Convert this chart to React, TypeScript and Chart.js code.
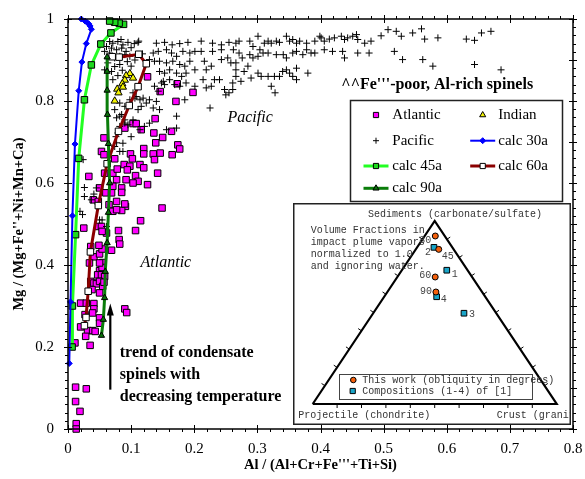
import React, { useEffect, useRef } from 'react';
import { Chart, registerables } from 'chart.js';
Chart.register(...registerables);

type P = [number, number];
type T = [number, number, number]; // [sediments, projectile, crust]

const atlantic: P[] = [
  [0.126,0.859],[0.146,0.823],[0.171,0.799],[0.198,0.821],[0.173,0.842],[0.138,0.757],[0.103,0.745],[0.108,0.745],[0.090,0.734],[0.116,0.730],
  [0.136,0.722],[0.164,0.726],[0.057,0.710],[0.150,0.711],[0.120,0.684],[0.139,0.698],[0.174,0.693],[0.177,0.683],[0.053,0.677],[0.057,0.669],
  [0.074,0.659],[0.099,0.671],[0.135,0.671],[0.146,0.673],[0.137,0.657],[0.165,0.669],[0.120,0.671],[0.102,0.659],[0.089,0.645],[0.098,0.641],
  [0.114,0.645],[0.120,0.637],[0.142,0.624],[0.033,0.616],[0.058,0.624],[0.071,0.624],[0.078,0.634],[0.094,0.632],[0.107,0.618],[0.077,0.608],
  [0.092,0.608],[0.111,0.604],[0.126,0.596],[0.050,0.588],[0.071,0.592],[0.085,0.588],[0.103,0.600],[0.060,0.576],[0.040,0.559],[0.048,0.555],
  [0.077,0.555],[0.091,0.543],[0.065,0.547],[0.071,0.531],[0.085,0.533],[0.149,0.539],[0.115,0.508],[0.107,0.484],[0.080,0.484],[0.025,0.490],
  [0.048,0.494],[0.061,0.478],[0.069,0.576],[0.085,0.577],[0.090,0.549],[0.077,0.535],[0.053,0.494],[0.054,0.482],
  [0.081,0.462],[0.082,0.451],[0.036,0.445],[0.041,0.420],[0.050,0.427],[0.054,0.439],[0.055,0.406],[0.050,0.386],[0.054,0.394],[0.047,0.376],
  [0.053,0.376],[0.058,0.372],[0.036,0.360],[0.041,0.356],[0.045,0.354],[0.050,0.360],[0.055,0.348],
  [0.049,0.448],[0.034,0.405],[0.050,0.405],[0.057,0.358],[0.038,0.340],[0.050,0.332],[0.020,0.307],[0.041,0.306],[0.029,0.307],[0.041,0.293],
  [0.050,0.271],[0.027,0.279],[0.039,0.283],[0.020,0.249],[0.031,0.240],[0.039,0.240],[0.043,0.238],[0.050,0.258],[0.028,0.226],[0.035,0.204],
  [0.011,0.210],[0.090,0.293],[0.093,0.284],[0.069,0.436],
  [0.012,0.102],[0.029,0.098],[0.012,0.067],[0.019,0.043],[0.013,0.013],[0.013,0.0]
];

const pacific: P[] = [
  [0.211,0.946],[0.229,0.941],[0.243,0.937],[0.255,0.943],[0.266,0.941],[0.271,0.946],
  [0.211,0.921],[0.229,0.921],[0.243,0.925],[0.262,0.925],[0.271,0.917],[0.288,0.946],[0.293,0.933],[0.301,0.958],[0.304,0.925],[0.311,0.941],
  [0.317,0.946],[0.322,0.941],[0.330,0.946],[0.335,0.943],[0.346,0.958],[0.351,0.946],[0.356,0.950],[0.362,0.941],[0.367,0.946],[0.378,0.941],
  [0.391,0.946],[0.399,0.958],[0.401,0.954],[0.406,0.946],[0.414,0.951],[0.422,0.954],[0.433,0.958],[0.438,0.950],[0.443,0.954],[0.451,0.958],
  [0.457,0.962],[0.459,0.950],[0.470,0.941],[0.480,0.946],[0.496,0.959],[0.507,0.974],[0.520,0.970],[0.528,0.958],[0.546,0.966],[0.560,0.976],
  [0.565,0.951],[0.586,0.954],[0.631,0.951],[0.644,0.948],[0.655,0.966],[0.670,0.970],[0.517,0.921],[0.530,0.901],[0.562,0.901],[0.578,0.885],
  [0.644,0.889],[0.686,0.876],
  [0.216,0.897],[0.219,0.876],[0.227,0.885],[0.243,0.901],[0.253,0.905],[0.258,0.893],[0.266,0.893],[0.276,0.905],[0.288,0.913],[0.293,0.905],
  [0.301,0.909],[0.309,0.917],[0.317,0.917],[0.330,0.913],[0.341,0.913],[0.346,0.905],[0.356,0.917],[0.362,0.921],[0.372,0.913],[0.378,0.925],
  [0.385,0.917],[0.391,0.917],[0.406,0.925],[0.419,0.921],[0.435,0.921],[0.438,0.905],[0.459,0.917],[0.477,0.917],
  [0.214,0.852],[0.219,0.832],[0.227,0.836],[0.232,0.852],[0.240,0.852],[0.248,0.828],[0.250,0.815],[0.255,0.820],[0.261,0.828],[0.261,0.844],
  [0.266,0.860],[0.266,0.876],[0.274,0.848],[0.279,0.872],[0.285,0.885],[0.290,0.856],[0.301,0.868],[0.306,0.860],[0.317,0.860],[0.322,0.836],
  [0.327,0.860],[0.328,0.820],[0.335,0.860],[0.340,0.872],[0.346,0.876],[0.351,0.868],[0.356,0.860],[0.362,0.852],[0.362,0.880],[0.380,0.868],
  [0.225,0.783],
  [0.112,0.946],[0.140,0.941],[0.153,0.943],[0.165,0.937],[0.177,0.940],[0.190,0.943],
  [0.135,0.917],[0.143,0.921],[0.156,0.925],[0.164,0.917],[0.172,0.909],[0.182,0.921],[0.193,0.917],[0.201,0.921],
  [0.129,0.901],[0.137,0.897],[0.145,0.897],[0.156,0.893],[0.166,0.897],[0.177,0.889],[0.185,0.885],[0.193,0.897],[0.145,0.872],[0.153,0.868],
  [0.161,0.876],[0.172,0.868],[0.180,0.860],[0.187,0.868],[0.201,0.876],
  [0.148,0.844],[0.151,0.848],[0.153,0.840],[0.161,0.852],[0.169,0.840],[0.177,0.836],[0.187,0.844],[0.201,0.836],[0.137,0.836],[0.143,0.824],
  [0.108,0.811],[0.114,0.803],[0.119,0.807],[0.124,0.795],[0.129,0.803],[0.116,0.787],[0.135,0.783],[0.140,0.799],[0.145,0.779],[0.185,0.803],
  [0.172,0.763],[0.111,0.779],[0.098,0.803],
  [0.082,0.763],[0.090,0.754],[0.095,0.742],[0.103,0.754],[0.114,0.730],[0.121,0.738],[0.129,0.746],[0.156,0.730],[0.172,0.734],[0.100,0.713],
  [0.082,0.738],[0.076,0.713],[0.087,0.697],[0.074,0.689],[0.082,0.677],
  [0.061,0.933],[0.071,0.941],[0.079,0.945],[0.087,0.937],[0.095,0.943],[0.058,0.921],[0.066,0.917],[0.077,0.925],[0.085,0.929],[0.092,0.921],
  [0.074,0.905],[0.082,0.909],[0.090,0.913],[0.098,0.909],[0.063,0.893],[0.074,0.884],[0.082,0.889],[0.058,0.876],[0.069,0.872],[0.071,0.852],
  [0.079,0.862],[0.103,0.820],[0.106,0.807],[0.082,0.795],[0.090,0.787],[0.074,0.779],[0.085,0.767],[0.077,0.759],[0.090,0.746],[0.079,0.722],
  [0.077,0.698],[0.087,0.677],[0.024,0.657],[0.045,0.588],[0.037,0.559],[0.019,0.531],[0.050,0.510],[0.061,0.494],
  [0.066,0.945],[0.069,0.929],[0.084,0.950],[0.100,0.930],[0.105,0.940],[0.063,0.905],[0.094,0.896],[0.100,0.885],[0.086,0.875],[0.106,0.900],
  [0.111,0.943],[0.118,0.915],
  [0.026,0.589],[0.026,0.567],[0.041,0.573],[0.023,0.523],[0.054,0.510]
];

const indian: P[] = [
  [0.098,0.867],[0.103,0.856],[0.092,0.862],[0.090,0.851],[0.086,0.842],[0.087,0.834],[0.078,0.829],[0.080,0.820],[0.074,0.800]
];

const calc30a: P[] = [
  [0.002,0.16],[0.004,0.31],[0.007,0.52],[0.011,0.695],[0.017,0.825],[0.022,0.895],[0.029,0.94],[0.037,0.975],
  [0.035,0.983],[0.033,0.988],[0.030,0.992],[0.027,0.995],[0.021,1.0]
];
const calc45a: P[] = [
  [0.0065,0.20],[0.007,0.30],[0.012,0.474],[0.017,0.66],[0.026,0.803],[0.037,0.888],[0.052,0.939],[0.068,0.966],
  [0.088,0.987],[0.081,0.99],[0.074,0.992],[0.066,0.995]
];
const calc60a: P[] = [
  [0.026,0.252],[0.0285,0.272],[0.032,0.336],[0.0355,0.432],[0.048,0.545],[0.062,0.647],[0.080,0.726],[0.097,0.789],
  [0.111,0.835],[0.124,0.891],[0.112,0.914],[0.081,0.907],[0.070,0.908]
];
const calc90a: P[] = [
  [0.053,0.228],[0.056,0.267],[0.058,0.32],[0.059,0.384],[0.062,0.454],[0.064,0.528],[0.066,0.60],[0.064,0.696],
  [0.0625,0.767],[0.062,0.826],[0.062,0.872],[0.062,0.907]
];

// ternary inset (fractions: sediments, projectile, crust)
const thisWorkLabels = ['30', '45', '60', '90'];
const thisWork: T[] = [[0.918,0.0385,0.0435],[0.845,0.061,0.094],[0.694,0.151,0.155],[0.612,0.189,0.199]];
const compLabels = ['1', '2', '3', '4'];
const comps: T[] = [[0.731,0.085,0.184],[0.856,0.075,0.069],[0.496,0.132,0.372],[0.586,0.199,0.215]];
const triangleCorners: T[] = [[0,1,0],[0,0,1],[1,0,0],[0,1,0]];

const serif = "'Liberation Serif', 'Times New Roman', Times, serif";
const mono = "'Liberation Mono', 'Courier New', monospace";

const toXY = (a: P[]) => a.map(([x, y]) => ({ x, y }));
const ternXY = (a: T[]) => a.map(([s, p, c]) => { const t = s + p + c; return { x: (c + s / 2) / t, y: s / t }; });
const fmt = (v: any) => String(Math.round(Number(v) * 10) / 10);

function drawMarker(ctx: CanvasRenderingContext2D, style: string, x: number, y: number, r: number, fill: string, stroke: string, lw = 1) {
  ctx.save();
  ctx.fillStyle = fill; ctx.strokeStyle = stroke; ctx.lineWidth = lw;
  ctx.beginPath();
  if (style === 'rect') {
    ctx.rect(x - r, y - r, 2 * r, 2 * r);
  } else if (style === 'rectRot') {
    ctx.moveTo(x, y - r); ctx.lineTo(x + r, y); ctx.lineTo(x, y + r); ctx.lineTo(x - r, y); ctx.closePath();
  } else if (style === 'triangle') {
    ctx.moveTo(x, y - r); ctx.lineTo(x + r * 0.87, y + r * 0.5); ctx.lineTo(x - r * 0.87, y + r * 0.5); ctx.closePath();
  } else if (style === 'circle') {
    ctx.arc(x, y, r, 0, Math.PI * 2);
  }
  if (style === 'cross') {
    ctx.moveTo(x - r, y); ctx.lineTo(x + r, y); ctx.moveTo(x, y - r); ctx.lineTo(x, y + r);
    ctx.stroke();
  } else {
    ctx.fill(); ctx.stroke();
  }
  ctx.restore();
}

const framePlugin = {
  id: 'frame',
  afterDatasetsDraw(chart: any) {
    const { ctx, chartArea: a, scales } = chart;
    const xs = scales.x, ys = scales.y;
    ctx.save();
    ctx.strokeStyle = '#000';
    ctx.lineWidth = 1;
    ctx.beginPath();
    for (let i = 0; i <= 40; i++) {
      const px = Math.round(xs.getPixelForValue(i * 0.02)) + 0.5;
      if (i % 5 === 0) {
        ctx.moveTo(px, a.bottom - 4); ctx.lineTo(px, a.bottom + 4);
        ctx.moveTo(px, a.top - 4); ctx.lineTo(px, a.top + 4);
      } else {
        ctx.moveTo(px, a.bottom); ctx.lineTo(px, a.bottom + 3);
        ctx.moveTo(px, a.top); ctx.lineTo(px, a.top - 3);
      }
    }
    for (let i = 0; i <= 50; i++) {
      const py = Math.round(ys.getPixelForValue(i * 0.02)) + 0.5;
      if (i % 10 === 0) { ctx.moveTo(a.left - 4, py); ctx.lineTo(a.left + 4, py); }
      else { ctx.moveTo(a.left, py); ctx.lineTo(a.left - 3, py); }
      if (i % 5 === 0) { ctx.moveTo(a.right - 4, py); ctx.lineTo(a.right + 4, py); }
      else { ctx.moveTo(a.right, py); ctx.lineTo(a.right + 3, py); }
    }
    ctx.stroke();
    ctx.lineWidth = 1.5;
    ctx.strokeRect(a.left, a.top, a.right - a.left, a.bottom - a.top);
    ctx.restore();
  }
};

const notesPlugin = {
  id: 'notes',
  afterDatasetsDraw(chart: any) {
    const { ctx, scales } = chart;
    const X = (v: number) => scales.x.getPixelForValue(v);
    const Y = (v: number) => scales.y.getPixelForValue(v);
    ctx.save();
    ctx.fillStyle = '#000';
    ctx.textBaseline = 'middle';
    // title
    ctx.font = `bold 16px ${serif}`;
    ctx.textAlign = 'left';
    ctx.fillText("^^Fe'''-poor, Al-rich spinels", X(0.433), Y(0.840));
    // region labels
    ctx.font = `italic 16px ${serif}`;
    ctx.textAlign = 'center';
    ctx.fillText('Pacific', X(0.2885), Y(0.7585));
    ctx.fillText('Atlantic', X(0.155), Y(0.405));
    // trend text
    ctx.font = `bold 16px ${serif}`;
    ctx.textAlign = 'left';
    ctx.fillText('trend of condensate', X(0.082), Y(0.185));
    ctx.fillText('spinels with', X(0.082), Y(0.132));
    ctx.fillText('decreasing temperature', X(0.082), Y(0.079));
    // arrow
    const ax = X(0.067);
    ctx.strokeStyle = '#000';
    ctx.lineWidth = 2.2;
    ctx.beginPath();
    ctx.moveTo(ax, Y(0.096)); ctx.lineTo(ax, Y(0.285));
    ctx.stroke();
    ctx.beginPath();
    ctx.moveTo(ax, Y(0.306)); ctx.lineTo(ax - 3.5, Y(0.306) + 12); ctx.lineTo(ax + 3.5, Y(0.306) + 12); ctx.closePath();
    ctx.fill();

    // legend box
    const bx = 350.5, by = 100.5, bw = 212, bh = 101;
    ctx.fillStyle = '#fff';
    ctx.fillRect(bx, by, bw, bh);
    ctx.strokeStyle = '#222';
    ctx.lineWidth = 1.5;
    ctx.strokeRect(bx, by, bw, bh);
    const rows = [115, 140.7, 166, 188.3];
    const mx = [376, 482.7];
    const tx = [392.3, 498.3];
    const items = chart.data.datasets.filter((d: any) => d.legendPos);
    items.forEach((d: any) => {
      const [col, row] = d.legendPos;
      const y = rows[row];
      if (d.showLine) {
        ctx.strokeStyle = d.borderColor;
        ctx.lineWidth = d.borderWidth;
        ctx.beginPath();
        ctx.moveTo(mx[col] - 12.5, y); ctx.lineTo(mx[col] + 12.5, y);
        ctx.stroke();
      }
      const st = d.pointStyle;
      const r = st === 'cross' ? 3 : st === 'triangle' ? 3.5 : st === 'rectRot' ? 3 : 2.6;
      drawMarker(ctx, st, mx[col], y, r, d.pointBackgroundColor, d.pointBorderColor, 1);
      ctx.fillStyle = '#000';
      ctx.font = `15px ${serif}`;
      ctx.textAlign = 'left';
      ctx.fillText(d.label, tx[col], y);
    });
    ctx.restore();
  }
};

const insetPlugin = {
  id: 'inset',
  beforeDraw(chart: any) {
    const { ctx, width, height } = chart;
    ctx.save();
    ctx.fillStyle = '#fff';
    ctx.fillRect(0, 0, width, height);
    ctx.restore();
  },
  afterDatasetsDraw(chart: any) {
    const { ctx, width, height, scales } = chart;
    const X = (v: number) => scales.x.getPixelForValue(v);
    const Y = (v: number) => scales.y.getPixelForValue(v);
    ctx.save();
    // triangle ticks
    ctx.strokeStyle = '#000';
    ctx.lineWidth = 1;
    ctx.beginPath();
    const L = { x: X(0), y: Y(0) }, R = { x: X(1), y: Y(0) }, A = { x: X(0.5), y: Y(1) };
    const nl = (() => { const dx = A.x - L.x, dy = A.y - L.y, n = Math.hypot(dx, dy); return { x: dy / n, y: -dx / n }; })();
    const nr = (() => { const dx = A.x - R.x, dy = A.y - R.y, n = Math.hypot(dx, dy); return { x: -dy / n, y: dx / n }; })();
    for (let i = 1; i <= 9; i++) {
      const t = i / 10;
      const bxp = X(t), byp = Y(0);
      ctx.moveTo(bxp, byp); ctx.lineTo(bxp, byp + 4);
      const lx = X(t / 2), ly = Y(t);
      ctx.moveTo(lx, ly); ctx.lineTo(lx + nl.x * 4, ly + nl.y * 4);
      const rx = X(1 - t / 2), ry = Y(t);
      ctx.moveTo(rx, ry); ctx.lineTo(rx + nr.x * 4, ry + nr.y * 4);
    }
    ctx.stroke();

    // texts
    ctx.beginPath();
    ctx.rect(1.5, 1.5, width - 3, height - 3);
    ctx.clip();
    ctx.fillStyle = '#333';
    ctx.font = `10px ${mono}`;
    ctx.textBaseline = 'middle';
    ctx.textAlign = 'left';
    ctx.fillText('Sediments (carbonate/sulfate)', 75, 11);
    ['Volume Fractions in', 'impact plume vapors', 'normalized to 1.0', 'and ignoring water.'].forEach((s, i) => {
      ctx.fillText(s, 17.7, 27 + i * 12.1);
    });
    ctx.fillText('Projectile (chondrite)', 5.3, 212);
    ctx.fillText('Crust (granite)', 203.7, 212);

    // point labels
    const lab = (meta: any, labels: string[], offs: [number, number, string][]) => {
      meta.data.forEach((el: any, i: number) => {
        const [dx, dy, al] = offs[i];
        ctx.textAlign = al;
        ctx.fillText(labels[i], el.x + dx, el.y + dy);
      });
    };
    ctx.fillStyle = '#444';
    lab(chart.getDatasetMeta(1), thisWorkLabels, [[-4, 4, 'right'], [3, 7, 'left'], [-4, -2, 'right'], [-4, -1, 'right']]);
    lab(chart.getDatasetMeta(2), compLabels, [[5, 4, 'left'], [-3, 5, 'right'], [5, 1, 'left'], [4, 3, 'left']]);

    // inset legend
    ctx.strokeStyle = '#444';
    ctx.lineWidth = 1;
    ctx.strokeRect(46.5, 171.5, 193, 25);
    const d1 = chart.data.datasets[1], d2 = chart.data.datasets[2];
    drawMarker(ctx, 'circle', 60.3, 177, 2.8, d1.pointBackgroundColor, '#000', 1);
    drawMarker(ctx, 'rect', 59.7, 188, 2.6, d2.pointBackgroundColor, '#000', 1);
    ctx.fillStyle = '#333';
    ctx.textAlign = 'left';
    ctx.fillText(d1.label, 69.3, 177.7);
    ctx.fillText(d2.label, 69.3, 188.7);
    ctx.restore();

    // box border
    ctx.save();
    ctx.strokeStyle = '#222';
    ctx.lineWidth = 1.5;
    ctx.strokeRect(0.75, 0.75, width - 1.5, height - 1.5);
    ctx.restore();
  }
};

export default function App() {
  const mainRef = useRef<HTMLCanvasElement>(null);
  const insetRef = useRef<HTMLCanvasElement>(null);

  useEffect(() => {
    Chart.defaults.font.family = serif;
    Chart.defaults.color = '#000';
    const common = { clip: false as any };
    const main = new Chart(mainRef.current!, {
      type: 'scatter',
      data: {
        datasets: [
          { label: 'calc 30a', legendPos: [1, 1], data: toXY(calc30a), showLine: true, borderColor: '#0000ff', borderWidth: 2,
            pointStyle: 'rectRot', pointRadius: 3, pointBackgroundColor: '#0000ff', pointBorderColor: '#0000ff', pointBorderWidth: 1, ...common },
          { label: 'calc 90a', legendPos: [0, 3], data: toXY(calc90a), showLine: true, borderColor: '#0a7d0a', borderWidth: 3,
            pointStyle: 'triangle', pointRadius: 3.6, pointBackgroundColor: '#087008', pointBorderColor: '#000', pointBorderWidth: 1, ...common },
          { label: 'calc 60a', legendPos: [1, 2], data: toXY(calc60a), showLine: true, borderColor: '#8b0000', borderWidth: 3,
            pointStyle: 'rect', pointRadius: 4.6, pointBackgroundColor: '#ffffff', pointBorderColor: '#000', pointBorderWidth: 1, ...common },
          { label: 'calc 45a', legendPos: [0, 2], data: toXY(calc45a), showLine: true, borderColor: '#22ff22', borderWidth: 3,
            pointStyle: 'rect', pointRadius: 4.6, pointBackgroundColor: '#1ed81e', pointBorderColor: '#000', pointBorderWidth: 1, ...common },
          { label: 'Indian', legendPos: [1, 0], data: toXY(indian), showLine: false,
            pointStyle: 'triangle', pointRadius: 4.2, pointBackgroundColor: '#f2f200', pointBorderColor: '#000', pointBorderWidth: 1, ...common },
          { label: 'Pacific', legendPos: [0, 1], data: toXY(pacific), showLine: false,
            pointStyle: 'cross', pointRadius: 3.5, pointBackgroundColor: '#000', pointBorderColor: '#000', pointBorderWidth: 1, ...common },
          { label: 'Atlantic', legendPos: [0, 0], data: toXY(atlantic), showLine: false,
            pointStyle: 'rect', pointRadius: 4.6, pointBackgroundColor: '#ff00ff', pointBorderColor: '#000', pointBorderWidth: 1, ...common },
        ] as any,
      },
      options: {
        animation: false,
        responsive: false,
        events: [],
        layout: { padding: { left: 0, top: 19, right: 12, bottom: 0 } },
        plugins: { legend: { display: false }, tooltip: { enabled: false } },
        scales: {
          x: {
            type: 'linear', min: 0, max: 0.8,
            grid: { display: false, drawTicks: false }, border: { display: false },
            ticks: { stepSize: 0.1, padding: 11, font: { size: 15 }, color: '#000', callback: fmt, maxRotation: 0, autoSkip: false },
            title: { display: true, text: "Al / (Al+Cr+Fe'''+Ti+Si)", font: { size: 14.5, weight: 'bold' }, color: '#000', padding: { top: 0, bottom: 5 } },
            afterFit: (s: any) => { s.height = 50; s.paddingLeft = 0; s.paddingRight = 0; },
          },
          y: {
            type: 'linear', min: 0, max: 1,
            grid: { display: false, drawTicks: false }, border: { display: false },
            ticks: { stepSize: 0.2, padding: 14, font: { size: 15 }, color: '#000', callback: fmt, autoSkip: false },
            title: { display: true, text: "Mg / (Mg+Fe''+Ni+Mn+Ca)", font: { size: 14.5, weight: 'bold' }, color: '#000', padding: { top: 11, bottom: 0 } },
            afterFit: (s: any) => { s.width = 68; s.paddingTop = 0; s.paddingBottom = 0; },
          },
        },
      } as any,
      plugins: [framePlugin, notesPlugin],
    });

    const inset = new Chart(insetRef.current!, {
      type: 'scatter',
      data: {
        datasets: [
          { label: 'triangle', data: ternXY(triangleCorners), showLine: true, borderColor: '#000', borderWidth: 2.2,
            borderJoinStyle: 'miter', pointRadius: 0, ...common },
          { label: 'This work (obliquity in degrees)', data: ternXY(thisWork), pointStyle: 'circle', pointRadius: 3,
            pointBackgroundColor: '#f4600c', pointBorderColor: '#000', pointBorderWidth: 1, ...common },
          { label: 'Compositions (1-4) of [1]', data: ternXY(comps), pointStyle: 'rect', pointRadius: 4,
            pointBackgroundColor: '#1aa5c8', pointBorderColor: '#000', pointBorderWidth: 1, ...common },
        ] as any,
      },
      options: {
        animation: false,
        responsive: false,
        events: [],
        layout: { padding: { left: 19.7, right: 14.3, top: 18, bottom: 21 } },
        plugins: { legend: { display: false }, tooltip: { enabled: false } },
        scales: {
          x: { type: 'linear', display: false, min: 0, max: 1 },
          y: { type: 'linear', display: false, min: 0, max: 1 },
        },
      } as any,
      plugins: [insetPlugin],
    });

    return () => { main.destroy(); inset.destroy(); };
  }, []);

  return (
    <div style={{ position: 'absolute', left: 0, top: 0, width: 585, height: 479, background: '#fff' }}>
      <canvas ref={mainRef} width={585} height={479} style={{ position: 'absolute', left: 0, top: 0 }} />
      <canvas ref={insetRef} width={278} height={222} style={{ position: 'absolute', left: 293, top: 203 }} />
    </div>
  );
}
